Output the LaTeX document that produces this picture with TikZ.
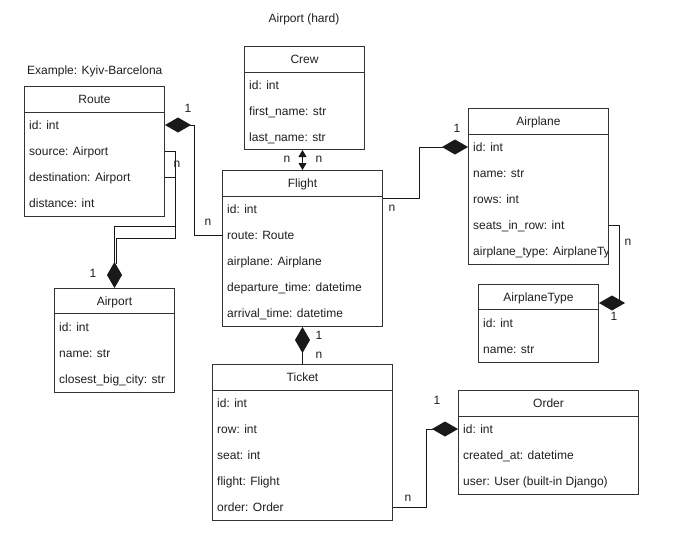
\documentclass[tikz,border=0pt]{standalone}
\usepackage{fontspec}
\setmainfont{Liberation Sans}
\usepackage{tikz}
\usetikzlibrary{arrows.meta,positioning,calc}
\definecolor{ink}{HTML}{1E1E1E}
\definecolor{edge}{HTML}{333333}

\begin{document}
\begin{tikzpicture}[
  x=1pt,y=-1pt,
  font=\fontsize{12}{14}\selectfont,
  cls/.style={draw=edge,line width=1pt,anchor=north west,inner sep=0pt},
  hd/.style={text=ink,inner sep=0pt,text height=8.5pt,text depth=0pt},
  attr/.style={hd,anchor=west},
  lbl/.style={text=ink,inner sep=0pt},
  sep/.style={draw=edge,line width=1pt},
  link/.style={draw=black!90,line width=0.9pt},
  dia/.style={link,-{Diamond[length=26pt,width=15pt]}},
  diastart/.style={link,{Diamond[length=26pt,width=15pt]}-},
  twoway/.style={link,{Triangle[length=7pt,width=8pt]}-{Triangle[length=7pt,width=8pt]}}
]
  \useasboundingbox (0,0) rectangle (690,533);

  \node[lbl] (title) at (304,19) {Airport (hard)};
  \node[lbl,anchor=west] (example) at (27,71) {Example: Kyiv-Barcelona};

  % Route
  \node[cls,minimum width=140pt,minimum height=130pt] (route) at (24,86) {};
  \draw[sep] ([yshift=-26pt]route.north west) -- ([yshift=-26pt]route.north east);
  \node[hd] (route-t) at ([yshift=-13pt]route.north) {Route};
  \node[attr] (route-id)  at ([shift={(5,39)}]route.north west) {id: int};
  \node[attr] (route-src) at ([shift={(5,65)}]route.north west) {source: Airport};
  \node[attr] (route-dst) at ([shift={(5,91)}]route.north west) {destination: Airport};
  \node[attr] (route-dist) at ([shift={(5,117)}]route.north west) {distance: int};

  % Crew
  \node[cls,minimum width=120pt,minimum height=103pt] (crew) at (244,46) {};
  \draw[sep] ([yshift=-26pt]crew.north west) -- ([yshift=-26pt]crew.north east);
  \node[hd] (crew-t) at ([yshift=-13pt]crew.north) {Crew};
  \node[attr] (crew-id)    at ([shift={(5,39)}]crew.north west) {id: int};
  \node[attr] (crew-first) at ([shift={(5,65)}]crew.north west) {first\_name: str};
  \node[attr] (crew-last)  at ([shift={(5,91)}]crew.north west) {last\_name: str};

  % Flight
  \node[cls,minimum width=160pt,minimum height=156pt] (flight) at (222,170) {};
  \draw[sep] ([yshift=-26pt]flight.north west) -- ([yshift=-26pt]flight.north east);
  \node[hd] (flight-t) at ([yshift=-13pt]flight.north) {Flight};
  \node[attr] (flight-id)    at ([shift={(5,39)}]flight.north west) {id: int};
  \node[attr] (flight-route) at ([shift={(5,65)}]flight.north west) {route: Route};
  \node[attr] (flight-plane) at ([shift={(5,91)}]flight.north west) {airplane: Airplane};
  \node[attr] (flight-dep)   at ([shift={(5,117)}]flight.north west) {departure\_time: datetime};
  \node[attr] (flight-arr)   at ([shift={(5,143)}]flight.north west) {arrival\_time: datetime};

  % Airplane
  \node[cls,minimum width=140pt,minimum height=156pt] (airplane) at (468,108) {};
  \draw[sep] ([yshift=-26pt]airplane.north west) -- ([yshift=-26pt]airplane.north east);
  \node[hd] (airplane-t) at ([yshift=-13pt]airplane.north) {Airplane};
  \node[attr] (airplane-id)    at ([shift={(5,39)}]airplane.north west) {id: int};
  \node[attr] (airplane-name)  at ([shift={(5,65)}]airplane.north west) {name: str};
  \node[attr] (airplane-rows)  at ([shift={(5,91)}]airplane.north west) {rows: int};
  \node[attr] (airplane-seats) at ([shift={(5,117)}]airplane.north west) {seats\_in\_row: int};
  \begin{scope}
    \clip ([xshift=1pt]airplane.north west) rectangle ([xshift=-1.5pt]airplane.south east);
    \node[attr] (airplane-type) at ([shift={(5,143)}]airplane.north west) {airplane\_type: AirplaneType};
  \end{scope}

  % Airport
  \node[cls,minimum width=120pt,minimum height=104pt] (airport) at (54,288) {};
  \draw[sep] ([yshift=-25pt]airport.north west) -- ([yshift=-25pt]airport.north east);
  \node[hd] (airport-t) at ([yshift=-13pt]airport.north) {Airport};
  \node[attr] (airport-id)   at ([shift={(5,39)}]airport.north west) {id: int};
  \node[attr] (airport-name) at ([shift={(5,65)}]airport.north west) {name: str};
  \node[attr] (airport-city) at ([shift={(5,91)}]airport.north west) {closest\_big\_city: str};

  % AirplaneType
  \node[cls,minimum width=120pt,minimum height=78pt] (atype) at (478,284) {};
  \draw[sep] ([yshift=-25pt]atype.north west) -- ([yshift=-25pt]atype.north east);
  \node[hd] (atype-t) at ([yshift=-13pt]atype.north) {AirplaneType};
  \node[attr] (atype-id)   at ([shift={(5,39)}]atype.north west) {id: int};
  \node[attr] (atype-name) at ([shift={(5,65)}]atype.north west) {name: str};

  % Ticket
  \node[cls,minimum width=180pt,minimum height=156pt] (ticket) at (212,364) {};
  \draw[sep] ([yshift=-26pt]ticket.north west) -- ([yshift=-26pt]ticket.north east);
  \node[hd] (ticket-t) at ([yshift=-13pt]ticket.north) {Ticket};
  \node[attr] (ticket-id)     at ([shift={(5,39)}]ticket.north west) {id: int};
  \node[attr] (ticket-row)    at ([shift={(5,65)}]ticket.north west) {row: int};
  \node[attr] (ticket-seat)   at ([shift={(5,91)}]ticket.north west) {seat: int};
  \node[attr] (ticket-flight) at ([shift={(5,117)}]ticket.north west) {flight: Flight};
  \node[attr] (ticket-order)  at ([shift={(5,143)}]ticket.north west) {order: Order};

  % Order
  \node[cls,minimum width=180pt,minimum height=104pt] (order) at (458,390) {};
  \draw[sep] ([yshift=-26pt]order.north west) -- ([yshift=-26pt]order.north east);
  \node[hd] (order-t) at ([yshift=-13pt]order.north) {Order};
  \node[attr] (order-id)   at ([shift={(5,39)}]order.north west) {id: int};
  \node[attr] (order-made) at ([shift={(5,65)}]order.north west) {created\_at: datetime};
  \node[attr] (order-user) at ([shift={(5,91)}]order.north west) {user: User (built-in Django)};

  % connectors
  \draw[diastart] (route.east |- route-id) -- ++(29,0) |- (flight.west |- flight-route);
  \draw[link] (route.east |- route-src) -- ++(10,0) -- ++(0,75) -| ($(airport.north)+(0,-26)$);
  \draw[link] (route.east |- route-dst) -- ++(10,0) -- ++(0,61) -| ($(airport.north)+(2,-24)$);
  \draw[dia] ($(airport.north)+(0,-27)$) -- (airport.north);
  \draw[twoway] (flight.north |- crew.south) -- (flight.north);
  \draw[dia] ([yshift=-28pt]flight.north east) -- ++(36,0) |- (airplane.west |- airplane-id);
  \draw[dia] (airplane.east |- airplane-seats) -- ++(10,0) |- ([yshift=-19pt]atype.north east);
  \draw[diastart] (flight.south) -- (ticket.north);
  \draw[dia] (ticket.east |- ticket-order) -- ++(33,0) |- (order.west |- order-id);

  % multiplicities
  \node[lbl] (m-route1)  at (188,108) {1};
  \node[lbl] (m-routen)  at (208,222) {n};
  \node[lbl] (m-portn)   at (177,164) {n};
  \node[lbl] (m-port1)   at (93,273) {1};
  \node[lbl] (m-crewn1)  at (287,159) {n};
  \node[lbl] (m-crewn2)  at (319,159) {n};
  \node[lbl] (m-plane1)  at (457,128) {1};
  \node[lbl] (m-planen)  at (392,208) {n};
  \node[lbl] (m-typen)   at (628,242) {n};
  \node[lbl] (m-type1)   at (614,316) {1};
  \node[lbl] (m-flight1) at (319,335) {1};
  \node[lbl] (m-flightn) at (319,355) {n};
  \node[lbl] (m-order1)  at (437,400) {1};
  \node[lbl] (m-ordern)  at (408,498) {n};
\end{tikzpicture}
\end{document}
